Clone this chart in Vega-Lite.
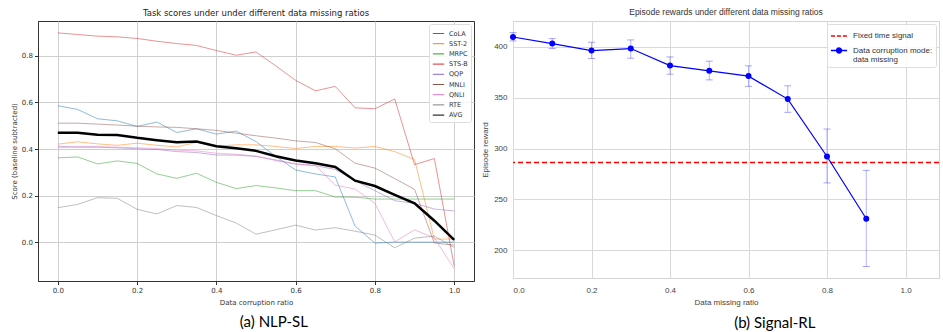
{
  "$schema": "https://vega.github.io/schema/vega-lite/v6.json",
  "background": "white",
  "padding": {"left": 9, "top": 7, "right": 0, "bottom": 0},
  "spacing": 6,
  "resolve": {"scale": {"color": "independent", "x": "independent", "y": "independent"}, "legend": {"color": "independent"}, "axis": {"x": "independent", "y": "independent"}},
  "datasets": {
    "nlp": [
      {"ratio": 0.0, "CoLA": 0.586, "SST-2": 0.421, "MRPC": 0.362, "STS-B": 0.899, "QQP": 0.412, "MNLI": 0.511, "QNLI": 0.405, "RTE": 0.148, "AVG": 0.470},
      {"ratio": 0.05, "CoLA": 0.570, "SST-2": 0.431, "MRPC": 0.366, "STS-B": 0.892, "QQP": 0.408, "MNLI": 0.511, "QNLI": 0.410, "RTE": 0.162, "AVG": 0.470},
      {"ratio": 0.1, "CoLA": 0.530, "SST-2": 0.422, "MRPC": 0.336, "STS-B": 0.885, "QQP": 0.408, "MNLI": 0.507, "QNLI": 0.410, "RTE": 0.191, "AVG": 0.461},
      {"ratio": 0.15, "CoLA": 0.521, "SST-2": 0.416, "MRPC": 0.349, "STS-B": 0.882, "QQP": 0.405, "MNLI": 0.503, "QNLI": 0.408, "RTE": 0.188, "AVG": 0.460},
      {"ratio": 0.2, "CoLA": 0.497, "SST-2": 0.425, "MRPC": 0.338, "STS-B": 0.875, "QQP": 0.401, "MNLI": 0.498, "QNLI": 0.405, "RTE": 0.141, "AVG": 0.448},
      {"ratio": 0.25, "CoLA": 0.516, "SST-2": 0.416, "MRPC": 0.293, "STS-B": 0.863, "QQP": 0.398, "MNLI": 0.495, "QNLI": 0.402, "RTE": 0.121, "AVG": 0.438},
      {"ratio": 0.3, "CoLA": 0.471, "SST-2": 0.409, "MRPC": 0.274, "STS-B": 0.853, "QQP": 0.389, "MNLI": 0.493, "QNLI": 0.395, "RTE": 0.157, "AVG": 0.429},
      {"ratio": 0.35, "CoLA": 0.487, "SST-2": 0.429, "MRPC": 0.296, "STS-B": 0.845, "QQP": 0.385, "MNLI": 0.487, "QNLI": 0.392, "RTE": 0.149, "AVG": 0.432},
      {"ratio": 0.4, "CoLA": 0.464, "SST-2": 0.412, "MRPC": 0.257, "STS-B": 0.823, "QQP": 0.374, "MNLI": 0.480, "QNLI": 0.382, "RTE": 0.114, "AVG": 0.412},
      {"ratio": 0.45, "CoLA": 0.477, "SST-2": 0.418, "MRPC": 0.230, "STS-B": 0.803, "QQP": 0.374, "MNLI": 0.468, "QNLI": 0.377, "RTE": 0.082, "AVG": 0.403},
      {"ratio": 0.5, "CoLA": 0.432, "SST-2": 0.418, "MRPC": 0.243, "STS-B": 0.817, "QQP": 0.368, "MNLI": 0.457, "QNLI": 0.370, "RTE": 0.034, "AVG": 0.392},
      {"ratio": 0.55, "CoLA": 0.368, "SST-2": 0.411, "MRPC": 0.233, "STS-B": 0.757, "QQP": 0.353, "MNLI": 0.447, "QNLI": 0.350, "RTE": 0.053, "AVG": 0.369},
      {"ratio": 0.6, "CoLA": 0.310, "SST-2": 0.402, "MRPC": 0.221, "STS-B": 0.695, "QQP": 0.336, "MNLI": 0.435, "QNLI": 0.335, "RTE": 0.073, "AVG": 0.351},
      {"ratio": 0.65, "CoLA": 0.293, "SST-2": 0.411, "MRPC": 0.221, "STS-B": 0.650, "QQP": 0.329, "MNLI": 0.428, "QNLI": 0.329, "RTE": 0.052, "AVG": 0.339},
      {"ratio": 0.7, "CoLA": 0.280, "SST-2": 0.411, "MRPC": 0.194, "STS-B": 0.669, "QQP": 0.312, "MNLI": 0.401, "QNLI": 0.245, "RTE": 0.062, "AVG": 0.323},
      {"ratio": 0.75, "CoLA": 0.069, "SST-2": 0.404, "MRPC": 0.193, "STS-B": 0.577, "QQP": 0.264, "MNLI": 0.339, "QNLI": 0.228, "RTE": 0.047, "AVG": 0.264},
      {"ratio": 0.8, "CoLA": -0.004, "SST-2": 0.411, "MRPC": 0.185, "STS-B": 0.573, "QQP": 0.221, "MNLI": 0.318, "QNLI": 0.167, "RTE": 0.030, "AVG": 0.241},
      {"ratio": 0.85, "CoLA": 0.0, "SST-2": 0.389, "MRPC": 0.185, "STS-B": 0.615, "QQP": 0.178, "MNLI": 0.273, "QNLI": 0.001, "RTE": -0.024, "AVG": 0.203},
      {"ratio": 0.9, "CoLA": 0.0, "SST-2": 0.355, "MRPC": 0.185, "STS-B": 0.333, "QQP": 0.167, "MNLI": 0.227, "QNLI": 0.053, "RTE": 0.017, "AVG": 0.167},
      {"ratio": 0.95, "CoLA": 0.0, "SST-2": 0.013, "MRPC": 0.185, "STS-B": 0.359, "QQP": 0.142, "MNLI": -0.004, "QNLI": 0.018, "RTE": 0.026, "AVG": 0.092},
      {"ratio": 1.0, "CoLA": 0.0, "SST-2": 0.013, "MRPC": 0.185, "STS-B": -0.102, "QQP": 0.134, "MNLI": -0.013, "QNLI": -0.114, "RTE": -0.023, "AVG": 0.010}
    ],
    "rl": [
      {"ratio": 0.0, "reward": 409.8, "lo": 405.9, "hi": 414.1, "series": "Data corruption mode: data missing"},
      {"ratio": 0.1, "reward": 403.3, "lo": 398.4, "hi": 408.2, "series": "Data corruption mode: data missing"},
      {"ratio": 0.2, "reward": 396.4, "lo": 388.6, "hi": 404.6, "series": "Data corruption mode: data missing"},
      {"ratio": 0.3, "reward": 398.4, "lo": 388.9, "hi": 406.9, "series": "Data corruption mode: data missing"},
      {"ratio": 0.4, "reward": 381.7, "lo": 373.2, "hi": 390.2, "series": "Data corruption mode: data missing"},
      {"ratio": 0.5, "reward": 376.5, "lo": 367.6, "hi": 386.0, "series": "Data corruption mode: data missing"},
      {"ratio": 0.6, "reward": 371.3, "lo": 361.2, "hi": 381.4, "series": "Data corruption mode: data missing"},
      {"ratio": 0.7, "reward": 348.7, "lo": 335.7, "hi": 361.8, "series": "Data corruption mode: data missing"},
      {"ratio": 0.8, "reward": 292.3, "lo": 266.3, "hi": 319.3, "series": "Data corruption mode: data missing"},
      {"ratio": 0.9, "reward": 231.1, "lo": 184.1, "hi": 278.6, "series": "Data corruption mode: data missing"}
    ],
    "fixed": [
      {"series": "Fixed time signal", "reward": 286.3}
    ]
  },
  "hconcat": [
    {
      "title": {"text": "(a) NLP-SL", "orient": "bottom", "anchor": "start", "font": "Lato", "fontSize": 15, "fontWeight": "normal", "color": "#000", "offset": 9, "dx": 230},
      "resolve": {"scale": {"color": "independent"}, "legend": {"color": "independent"}},
      "vconcat": [
        {
          "width": 436,
          "height": 260,
          "view": {"stroke": "#333", "strokeWidth": 1},
          "title": {"text": "Task scores under under different data missing ratios", "font": "DejaVu Sans", "fontSize": 8.5, "fontWeight": "normal", "color": "#222", "offset": 4},
          "data": {"name": "nlp"},
          "transform": [{"fold": ["CoLA", "SST-2", "MRPC", "STS-B", "QQP", "MNLI", "QNLI", "RTE", "AVG"], "as": ["task", "score"]}],
          "mark": {"type": "line", "clip": true},
          "encoding": {
            "x": {"field": "ratio", "type": "quantitative", "scale": {"domain": [-0.05, 1.05], "nice": false, "zero": false},
              "axis": {"values": [0, 0.2, 0.4, 0.6, 0.8, 1.0], "format": ".1f", "title": "Data corruption ratio", "labelFont": "DejaVu Sans", "labelFontSize": 7, "labelColor": "#333", "tickColor": "#333", "tickSize": 3.5, "domainColor": "#333", "gridColor": "#cfcfcf", "labelPadding": 2, "titleFont": "DejaVu Sans", "titleFontSize": 7, "titleFontWeight": "normal", "titleColor": "#333", "titlePadding": 5}},
            "y": {"field": "score", "type": "quantitative", "scale": {"domain": [-0.167, 0.95], "nice": false, "zero": false},
              "axis": {"values": [0, 0.2, 0.4, 0.6, 0.8], "format": ".1f", "title": "Score (baseline subtracted)", "labelFont": "DejaVu Sans", "labelFontSize": 7, "labelColor": "#333", "tickColor": "#333", "tickSize": 3.5, "domainColor": "#333", "gridColor": "#cfcfcf", "labelPadding": 2, "titleFont": "DejaVu Sans", "titleFontSize": 7, "titleFontWeight": "normal", "titleColor": "#333", "titlePadding": 4}},
            "color": {"field": "task", "type": "nominal",
              "scale": {"domain": ["CoLA", "SST-2", "MRPC", "STS-B", "QQP", "MNLI", "QNLI", "RTE", "AVG"], "range": ["#1f77b4", "#ff7f0e", "#2ca02c", "#d62728", "#9467bd", "#8c564b", "#e377c2", "#7f7f7f", "#000000"]},
              "legend": {"title": null, "orient": "top-right", "offset": 3, "fillColor": "rgba(255,255,255,0.85)", "strokeColor": "#dddddd", "padding": 3, "cornerRadius": 2, "symbolType": "stroke", "symbolSize": 130, "symbolStrokeWidth": 1, "labelFont": "DejaVu Sans", "labelFontSize": 6.5, "labelColor": "#333", "rowPadding": 0.2, "labelOffset": 4,
                "encode": {"symbols": {"update": {"strokeWidth": {"signal": "datum.value === 'AVG' ? 2.5 : 1"}, "opacity": {"signal": "datum.value === 'AVG' ? 1 : 0.5"}}}}}},
            "opacity": {"condition": {"test": "datum.task === 'AVG'", "value": 1}, "value": 0.5},
            "strokeWidth": {"condition": {"test": "datum.task === 'AVG'", "value": 2.5}, "value": 1}
          }
        }
      ]
    },
    {
      "title": {"text": "(b) Signal-RL", "orient": "bottom", "anchor": "start", "font": "Lato", "fontSize": 15, "fontWeight": "normal", "color": "#000", "offset": 9, "dx": 253},
      "resolve": {"scale": {"color": "independent"}, "legend": {"color": "independent"}},
      "vconcat": [
        {
          "width": 426,
          "height": 257,
          "view": {"stroke": "#d4d4d4", "strokeWidth": 1},
          "title": {"text": "Episode rewards under different data missing ratios", "font": "Liberation Sans", "fontSize": 8.5, "fontWeight": "normal", "color": "#333", "offset": 5},
          "layer": [
            {
              "data": {"name": "fixed"},
              "mark": {"type": "rule", "strokeDash": [5, 3], "strokeWidth": 1.5},
              "encoding": {
                "y": {"field": "reward", "type": "quantitative", "scale": {"domain": [172.8, 425.5], "nice": false, "zero": false}},
                "color": {"field": "series", "type": "nominal",
                  "scale": {"domain": ["Fixed time signal", "Data corruption mode: data missing"], "range": ["#ff0000", "#0000ff"]},
                  "legend": {"title": null, "orient": "top-right", "offset": 3, "fillColor": "rgba(255,255,255,0.85)", "strokeColor": "#dddddd", "padding": 3, "cornerRadius": 2, "symbolSize": 260, "labelFont": "Liberation Sans", "labelFontSize": 8, "labelColor": "#333", "rowPadding": 1.5, "labelOffset": 5,
                    "labelExpr": "datum.label === 'Data corruption mode: data missing' ? ['Data corruption mode:', 'data missing'] : datum.label",
                    "encode": {
                      "labels": {"update": {"lineHeight": {"value": 9}}},
                      "symbols": {"update": {
                      "shape": {"signal": "datum.value === 'Fixed time signal' ? 'M-1,0L1,0' : 'M-1,0L1,0M-0.3,0A0.3,0.3 0 1,0 0.3,0A0.3,0.3 0 1,0 -0.3,0Z'"},
                      "fill": {"signal": "datum.value === 'Fixed time signal' ? 'transparent' : '#0000ff'"},
                      "stroke": {"signal": "datum.value === 'Fixed time signal' ? '#ff0000' : '#0000ff'"},
                      "strokeDash": {"signal": "datum.value === 'Fixed time signal' ? [4, 2] : [1, 0]"},
                      "strokeWidth": {"value": 1.5},
                      "opacity": {"value": 1}
                    }}}}}
              }
            },
            {
              "data": {"name": "rl"},
              "mark": {"type": "rule", "color": "#0000ff", "opacity": 0.3, "strokeWidth": 1},
              "encoding": {
                "x": {"field": "ratio", "type": "quantitative", "scale": {"domain": [0, 1.0853], "nice": false, "zero": false},
                  "axis": {"values": [0, 0.2, 0.4, 0.6, 0.8, 1.0], "format": ".1f", "title": "Data missing ratio", "labelFont": "Liberation Sans", "labelFontSize": 8, "labelColor": "#444", "ticks": false, "domain": false, "gridColor": "#d9d9d9", "gridWidth": 1, "labelPadding": 8, "titleFont": "Liberation Sans", "titleFontSize": 8, "titleFontWeight": "normal", "titleColor": "#444", "titlePadding": 4}},
                "y": {"field": "lo", "type": "quantitative", "scale": {"domain": [172.8, 425.5], "nice": false, "zero": false},
                  "axis": {"values": [200, 250, 300, 350, 400], "title": "Episode reward", "labelFont": "Liberation Sans", "labelFontSize": 8, "labelColor": "#444", "ticks": false, "domain": false, "gridColor": "#d9d9d9", "gridWidth": 1, "labelPadding": 6, "titleFont": "Liberation Sans", "titleFontSize": 8, "titleFontWeight": "normal", "titleColor": "#444", "titlePadding": 4}},
                "y2": {"field": "hi"}
              }
            },
            {
              "data": {"name": "rl"},
              "mark": {"type": "tick", "orient": "horizontal", "color": "#0000ff", "opacity": 0.35, "size": 7, "thickness": 1},
              "encoding": {
                "x": {"field": "ratio", "type": "quantitative"},
                "y": {"field": "lo", "type": "quantitative"}
              }
            },
            {
              "data": {"name": "rl"},
              "mark": {"type": "tick", "orient": "horizontal", "color": "#0000ff", "opacity": 0.35, "size": 7, "thickness": 1},
              "encoding": {
                "x": {"field": "ratio", "type": "quantitative"},
                "y": {"field": "hi", "type": "quantitative"}
              }
            },
            {
              "data": {"name": "rl"},
              "mark": {"type": "line", "color": "#0000ff", "strokeWidth": 1.2},
              "encoding": {
                "x": {"field": "ratio", "type": "quantitative"},
                "y": {"field": "reward", "type": "quantitative"}
              }
            },
            {
              "data": {"name": "rl"},
              "mark": {"type": "point", "filled": true, "opacity": 1, "size": 36},
              "encoding": {
                "x": {"field": "ratio", "type": "quantitative"},
                "y": {"field": "reward", "type": "quantitative"},
                "color": {"field": "series", "type": "nominal"}
              }
            }
          ]
        }
      ]
    }
  ]
}
